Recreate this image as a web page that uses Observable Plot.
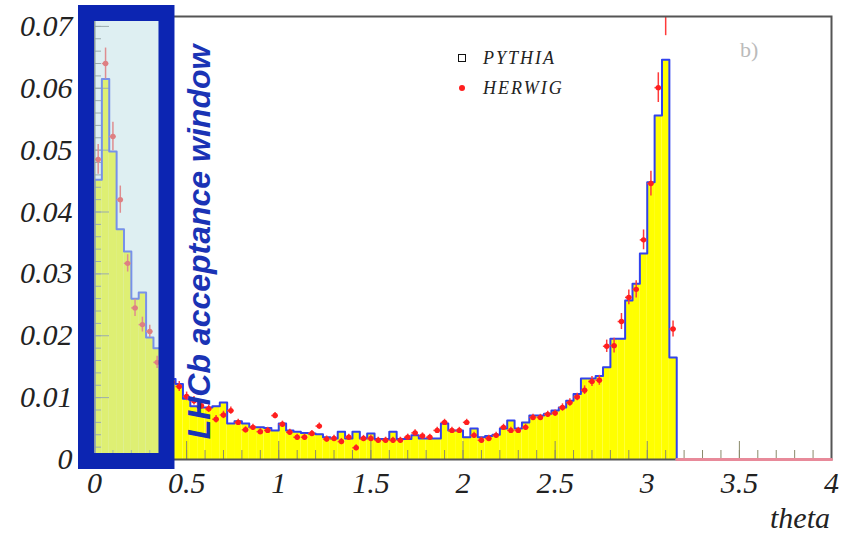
<!DOCTYPE html>
<html><head><meta charset="utf-8">
<script src="https://cdn.jsdelivr.net/npm/d3@7"></script>
<script src="https://cdn.jsdelivr.net/npm/@observablehq/plot@0.6"></script>
<style>
body{margin:0;background:#fff;}
#wrap{position:relative;width:846px;height:533px;}
.serif{font-family:"Liberation Serif","Times New Roman",serif;font-style:italic;}
.abs{position:absolute;white-space:nowrap;line-height:1;}
</style>
</head><body><div id="wrap"><div id="chart"></div></div>
<script>
// histogram bin width in theta
const binWidth = 0.04;
// PYTHIA histogram contents, bins [0,0.04), [0.04,0.08) ... up to 3.16
const pythia = [
 0.0452,0.0615,0.0498,0.0372,0.0336,0.0260,0.0270,0.0197,0.0180,0.0150,
 0.0130,0.0122,0.0098,0.0086,0.0084,0.0084,0.0086,0.0092,0.0058,0.0062,
 0.0058,0.0052,0.0052,0.0051,0.0047,0.0058,0.0047,0.0045,0.0043,0.0042,
 0.0041,0.0036,0.0034,0.0045,0.0034,0.0045,0.0034,0.0042,0.0033,0.0033,
 0.0045,0.0033,0.0033,0.0039,0.0034,0.0034,0.0034,0.0058,0.0047,0.0047,
 0.0036,0.0050,0.0036,0.0038,0.0040,0.0050,0.0063,0.0050,0.0060,0.0071,
 0.0071,0.0074,0.0079,0.0084,0.0095,0.0106,0.0131,0.0131,0.0135,0.0149,
 0.0195,0.0195,0.0257,0.0284,0.0333,0.0448,0.0556,0.0646,0.0165];
// HERWIG points (same bins)
const herwig = [
 0.0485,0.0640,0.0522,0.0420,0.0317,0.0245,0.0218,0.0207,0.0157,0.0135,
 0.0125,0.0118,0.0102,0.0095,0.0087,0.0082,0.0065,0.0072,0.0079,0.0060,
 0.0048,0.0052,0.0045,0.0047,0.0071,0.0057,0.0044,0.0036,0.0036,0.0042,
 0.0054,0.0033,0.0034,0.0029,0.0036,0.0019,0.0034,0.0034,0.0031,0.0031,
 0.0031,0.0031,0.0036,0.0043,0.0038,0.0036,0.0047,0.0060,0.0047,0.0047,
 0.0060,0.0039,0.0031,0.0034,0.0039,0.0052,0.0047,0.0047,0.0052,0.0068,
 0.0068,0.0073,0.0075,0.0084,0.0092,0.0101,0.0112,0.0126,0.0128,0.0183,
 0.0184,0.0223,0.0262,0.0275,0.0355,0.0446,0.0601,0.0750,0.0211];
// HERWIG errors
const herwigErr = [
 0.0024,0.0025,0.0023,0.0022,0.0014,0.0014,0.0012,0.0010,0.0010,0.0009,
 0.0008,0.0008,0.0007,0.0007,0.0006,0.0006,0.0006,0.0006,0.0006,0.0005,
 0.0005,0.0005,0.0005,0.0005,0.0005,0.0005,0.0005,0.0005,0.0005,0.0005,
 0.0005,0.0005,0.0005,0.0005,0.0005,0.0005,0.0005,0.0005,0.0005,0.0005,
 0.0005,0.0005,0.0005,0.0005,0.0005,0.0005,0.0005,0.0005,0.0005,0.0005,
 0.0005,0.0005,0.0005,0.0005,0.0005,0.0005,0.0005,0.0005,0.0005,0.0005,
 0.0005,0.0005,0.0005,0.0006,0.0006,0.0006,0.0007,0.0008,0.0008,0.0010,
 0.0012,0.0013,0.0012,0.0014,0.0016,0.0020,0.0024,0.0065,0.0013];
// empty HERWIG bins from 3.16 to 4
const herwigEmpty = [0,0,0,0,0,0,0,0,0,0,0,0,0,0,0,0,0,0,0,0,0];
const xMajorTicks = [0,0.5,1,1.5,2,2.5,3,3.5,4];
const xTickLabels = ["0","0.5","1","1.5","2","2.5","3","3.5","4"];
const yMajorTicks = [0,0.01,0.02,0.03,0.04,0.05,0.06,0.07];
const yTickLabels = ["0","0.01","0.02","0.03","0.04","0.05","0.06","0.07"];
const legendLabels = ["PYTHIA","HERWIG"];
const panelLabel = "b)";
const xLabel = "theta";
const windowLabel = "LHCb acceptance window";
const acceptanceWindow = [0, 0.35];
const yMax = 0.0716;

const bins = pythia.map((v,i)=>({x1:i*binWidth, x2:(i+1)*binWidth, v}));
const outline = [{x:0,y:0}, ...bins.flatMap(b=>[{x:b.x1,y:b.v},{x:b.x2,y:b.v}]), {x:bins[bins.length-1].x2,y:0}];
const hw = herwig.map((v,i)=>({x:(i+0.5)*binWidth, v, e:herwigErr[i]}));
const tail = herwigEmpty.flatMap((v,i)=>{const k=pythia.length+i; return [{x:k*binWidth,y:v},{x:(k+1)*binWidth,y:v}];});
const serif = '"Liberation Serif","Times New Roman",serif';

const chart = Plot.plot({
  width: 846, height: 533,
  marginLeft: 94, marginRight: 15, marginTop: 16, marginBottom: 74,
  x: {domain: [0, 4]},
  y: {domain: [0, yMax]},
  style: {background: "white", overflow: "visible"},
  marks: [
    Plot.rect(bins, {x1:"x1", x2:"x2", y1:0, y2:"v", fill:"#ffff00"}),
    Plot.ruleX(d3.range(0, 4.001, 0.1), {x:d=>d, y1:0, y2:0, insetTop:-9, stroke:"#8a8a6a", strokeWidth:1}),
    Plot.ruleX(xMajorTicks, {x:d=>d, y1:0, y2:0, insetTop:-18, stroke:"#8a8a6a", strokeWidth:1}),
    Plot.ruleY(d3.range(0, 0.0701, 0.002), {y:d=>d, x1:0, x2:0, insetRight:-7, stroke:"#777", strokeWidth:1}),
    Plot.ruleY(yMajorTicks, {y:d=>d, x1:0, x2:0, insetRight:-15, stroke:"#777", strokeWidth:1}),
    Plot.line(outline, {x:"x", y:"y", stroke:"#3142ee", strokeWidth:2}),
    Plot.ruleX(hw, {x:"x", y1:d=>d.v-d.e, y2:d=>d.v+d.e, stroke:"#ff3a3a", strokeWidth:1.5, clip:true}),
    Plot.ruleY(hw, {y:"v", x1:d=>d.x-0.018, x2:d=>d.x+0.018, stroke:"#ff3a3a", strokeWidth:1.5, clip:true}),
    Plot.dot(hw, {x:"x", y:"v", r:2.7, fill:"#ff1e1e", clip:true}),
    Plot.frame({stroke:"#555", strokeWidth:2}),
    Plot.line(tail, {x:"x", y:"y", stroke:"#e88a9a", strokeWidth:3}),
    Plot.axisX(xMajorTicks, {tickSize:0, tickPadding:12, fontSize:30, fontStyle:"italic", fontFamily:serif, fill:"#222", label:null,
      tickFormat:(d,i)=>xTickLabels[xMajorTicks.indexOf(d)]}),
    Plot.axisY(yMajorTicks, {tickSize:0, tickPadding:22, fontSize:30, fontStyle:"italic", fontFamily:serif, fill:"#222", label:null,
      tickFormat:d=>yTickLabels[yMajorTicks.indexOf(d)]}),
    Plot.rect([acceptanceWindow], {x1:d=>d[0], x2:d=>d[1], fill:"rgb(190,224,229)", fillOpacity:0.5,
      stroke:"#0c25b2", strokeWidth:16, insetTop:-3, insetBottom:-2, insetLeft:-8, insetRight:-8}),
    Plot.text([windowLabel], {x:()=>acceptanceWindow[1], text:d=>d, rotate:-90, dx:41, dy:4,
      fontSize:32, fontWeight:"bold", fontStyle:"italic", fontFamily:'"Liberation Sans",Arial,sans-serif', fill:"#1a33b5"})
  ]
});
const wrap = document.getElementById("wrap");
document.getElementById("chart").appendChild(chart);

function addText(txt, cls, style){
  const el = document.createElement("div");
  el.className = "abs " + cls;
  el.textContent = txt;
  Object.assign(el.style, style);
  wrap.appendChild(el);
  return el;
}
// legend
const sq = document.createElement("div");
Object.assign(sq.style,{position:"absolute",left:"458px",top:"54px",width:"6px",height:"6px",border:"1.6px solid #111"});
wrap.appendChild(sq);
const rd = document.createElement("div");
Object.assign(rd.style,{position:"absolute",left:"459px",top:"85px",width:"6px",height:"6px",borderRadius:"50%",background:"#ff1e1e"});
wrap.appendChild(rd);
addText(legendLabels[0], "serif", {left:"483px", top:"49px", fontSize:"18px", letterSpacing:"2px", color:"#222"});
addText(legendLabels[1], "serif", {left:"483px", top:"79px", fontSize:"18px", letterSpacing:"2px", color:"#222"});
addText(panelLabel, "", {left:"740px", top:"39px", fontSize:"22px", color:"#bbb", fontFamily:serif});
addText(xLabel, "serif", {right:"16px", top:"503px", fontSize:"30px", color:"#222"});
</script>
</body></html>
